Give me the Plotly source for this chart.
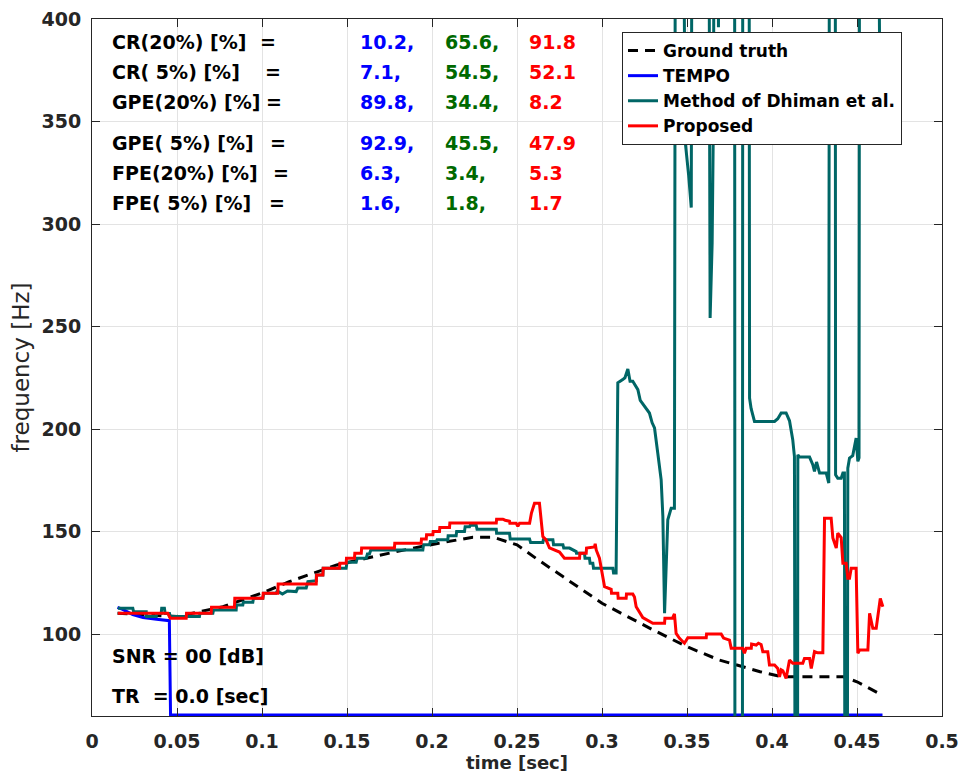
import plotly.graph_objects as go

# ---------------- data ----------------
gt_t = [0.015, 0.03, 0.05, 0.077, 0.1, 0.116, 0.144, 0.179, 0.204, 0.224, 0.236, 0.25,
        0.261, 0.277, 0.29, 0.30, 0.33, 0.35, 0.369, 0.393, 0.406, 0.442, 0.45, 0.463]
gt_f = [110.1, 109.5, 108.5, 113.3, 120, 125.5, 133.7, 140.2, 144.3, 147.2, 147.2, 143.5,
        137, 128, 120.5, 115, 102, 93.8, 87.3, 81.6, 79.1, 79.1, 76.7, 71]

tempo_t = [0.015, 0.018, 0.024, 0.03, 0.038, 0.0455, 0.0462, 0.465]
tempo_f = [113, 112, 109.5, 108, 107.2, 106.5, 60.5, 60.5]

dh_t = [0.0152, 0.024, 0.0245, 0.0319, 0.032, 0.0378, 0.038, 0.0407, 0.041, 0.0426, 0.043, 0.0456,
        0.046, 0.0632, 0.0635, 0.0711, 0.0715, 0.0848, 0.085, 0.0887, 0.089, 0.0946, 0.095, 0.1005,
        0.101, 0.1083, 0.109, 0.112, 0.115, 0.1201, 0.121, 0.126, 0.127, 0.1319, 0.132, 0.1358,
        0.136, 0.1495, 0.15, 0.1554, 0.156, 0.1613, 0.162, 0.1632, 0.164, 0.1946, 0.195, 0.1985,
        0.199, 0.2025, 0.203, 0.2093, 0.2095, 0.2142, 0.2145, 0.2191, 0.2195, 0.2221, 0.2225, 0.226,
        0.2265, 0.2378, 0.238, 0.2456, 0.246, 0.2574, 0.258, 0.2652, 0.2655, 0.2711, 0.2715, 0.277,
        0.2775, 0.2809, 0.2848, 0.285, 0.2897, 0.29, 0.2926, 0.293, 0.2946, 0.295, 0.3064, 0.3068,
        0.3083, 0.3093, 0.3122, 0.3135, 0.3152, 0.3165, 0.3181, 0.3211, 0.3225, 0.326, 0.3279, 0.3295,
        0.3309, 0.3328, 0.3348, 0.3358, 0.3368, 0.3387, 0.3407, 0.3426, 0.3432, 0.3475, 0.349, 0.351,
        0.3525, 0.353, 0.3628, 0.3636, 0.3648, 0.3656, 0.366, 0.3678, 0.3685, 0.3692, 0.378, 0.3782,
        0.3826, 0.3828, 0.3865, 0.3868, 0.3877, 0.3897, 0.4015, 0.4034, 0.4054, 0.4083, 0.4103, 0.4122,
        0.4132, 0.4136, 0.415, 0.4152, 0.4162, 0.4221, 0.424, 0.425, 0.4262, 0.428, 0.4319, 0.4334,
        0.4338, 0.4372, 0.4374, 0.4387, 0.4407, 0.4417, 0.4426, 0.4429, 0.4443, 0.4446, 0.4456, 0.4475,
        0.4495, 0.4505, 0.4512, 0.4515, 0.4622, 0.4637]
dh_f = [112.5, 112.5, 110.8, 110.8, 108.5, 108.5, 110, 110, 112.5, 112.5, 110, 110,
        108.5, 108.5, 110.1, 110.1, 111.7, 111.7, 114.1, 114.1, 115.5, 115.5, 117.4, 117.4,
        119.9, 119.9, 121, 119.5, 121, 120.7, 122.4, 122.4, 125.5, 126, 128.8, 128.8,
        132.1, 132.1, 135, 135, 137, 137, 139, 139, 141, 141, 143.5, 143.5,
        145.1, 145.1, 146, 146, 147.9, 147.9, 150, 150, 152.3, 152.3, 153, 153,
        151.1, 151.1, 149.2, 149.2, 146.3, 146.3, 144.6, 144.6, 146, 146, 143.5, 143.5,
        141.9, 141.9, 140.2, 139.4, 139.4, 137, 137, 134.5, 134.5, 132.1, 132.1, 129.7,
        129.7, 222.5, 224.1, 225, 229.3, 223.3, 223.3, 219.2, 214, 210.3, 207.8, 203,
        200.5, 188.3, 175.2, 157.3, 110.1, 155.7, 161.4, 161.4, 500, 500, 339.8, 323.5,
        308, 500, 500, 254.2, 290.9, 356, 500, 500, 396, 500, 500, 0,
        0, 500, 500, 215.1, 210, 203.7, 203.7, 205, 207.8, 207.8, 204, 194.8,
        186.6, 0, 0, 187.4, 186.3, 186.3, 182.6, 179.3, 183.9, 178.5, 178.5, 173.6,
        500, 500, 177.7, 176, 176, 178.5, 178.5, 0, 0, 180.9, 185.8, 187,
        195.6, 184.2, 186, 500, 500, 345]

pr_t = [0.0152, 0.0446, 0.046, 0.0554, 0.0556, 0.0701, 0.0703, 0.0838, 0.084, 0.1005, 0.1007, 0.1093,
        0.1095, 0.1319, 0.1321, 0.1358, 0.136, 0.1456, 0.1458, 0.1495, 0.1497, 0.1544, 0.1546, 0.1584,
        0.1586, 0.1779, 0.1781, 0.1936, 0.1938, 0.1966, 0.1968, 0.2005, 0.2007, 0.2044, 0.2046, 0.2103,
        0.2105, 0.2378, 0.238, 0.2417, 0.243, 0.2456, 0.2458, 0.2495, 0.2505, 0.2515, 0.2574, 0.2585,
        0.2603, 0.2632, 0.2652, 0.2671, 0.2691, 0.275, 0.2779, 0.2868, 0.287, 0.2907, 0.2909, 0.2956,
        0.296, 0.2966, 0.2985, 0.3015, 0.3054, 0.3056, 0.3093, 0.3095, 0.3142, 0.3144, 0.3181, 0.3191,
        0.3201, 0.324, 0.3299, 0.3368, 0.337, 0.3415, 0.3426, 0.3436, 0.3456, 0.3485, 0.3505, 0.3613,
        0.3615, 0.3701, 0.3715, 0.375, 0.376, 0.3828, 0.3838, 0.3848, 0.3878, 0.388, 0.3907, 0.392,
        0.3936, 0.3946, 0.3975, 0.3985, 0.4015, 0.4034, 0.4044, 0.4054, 0.4064, 0.4083, 0.4103, 0.4122,
        0.4181, 0.4191, 0.4221, 0.4231, 0.425, 0.4269, 0.4299, 0.4309, 0.4348, 0.4358, 0.4378, 0.4387,
        0.4407, 0.4417, 0.4436, 0.4446, 0.4456, 0.4466, 0.4495, 0.4505, 0.4515, 0.4564, 0.4574, 0.4593,
        0.4613, 0.4637, 0.4652]
pr_f = [110.1, 110.1, 107.7, 107.7, 110.1, 110.1, 113, 113, 117.4, 117.4, 119.9, 119.9,
        124.4, 124.4, 128.8, 128.8, 132.1, 132.1, 134.5, 134.5, 137, 137, 139.4, 139.4,
        141.9, 141.9, 144.3, 144.3, 146.3, 146.3, 148.4, 148.4, 150, 150, 151.9, 151.9,
        154.1, 154.1, 156, 156, 155.5, 155, 154, 154, 152.5, 154, 154, 159,
        163.8, 163.8, 147.5, 145.9, 142, 140, 137, 137, 139.4, 139.4, 141.9, 142.5,
        144, 141, 137, 123.1, 121.8, 119.9, 119.9, 117.4, 117.4, 119.5, 119.5, 118,
        113.3, 108, 105.2, 105.2, 107.7, 107.7, 109.8, 100.3, 97.9, 95.5, 98.2, 98.2,
        100, 100, 98, 97, 93, 93, 90.6, 93, 93, 95.1, 94.6, 95.5,
        94.9, 91.4, 91.4, 84.9, 84.9, 83.2, 79.1, 82.5, 82, 78.4, 87.3, 85.7,
        85.7, 88.1, 88.1, 83.2, 91.4, 90.8, 90.8, 156.5, 156.5, 146.8, 141.9, 149.2,
        147, 134.5, 134.5, 127.2, 127.2, 132.1, 132.1, 90.6, 92.2, 92.2, 110.1, 102.8,
        102.8, 117.4, 113.3]

x_ticks = [0, 0.05, 0.1, 0.15, 0.2, 0.25, 0.3, 0.35, 0.4, 0.45, 0.5]
x_tick_labels = ["0", "0.05", "0.1", "0.15", "0.2", "0.25", "0.3", "0.35", "0.4", "0.45", "0.5"]
y_ticks = [100, 150, 200, 250, 300, 350, 400]

metric_labels = ["CR(20%) [%]", "CR( 5%) [%]", "GPE(20%) [%]", "GPE( 5%) [%]", "FPE(20%) [%]", "FPE( 5%) [%]"]
tempo_vals = ["10.2,", "7.1,", "89.8,", "92.9,", "6.3,", "1.6,"]
dhiman_vals = ["65.6,", "54.5,", "34.4,", "45.5,", "3.4,", "1.8,"]
proposed_vals = ["91.8", "52.1", "8.2", "47.9", "5.3", "1.7"]

# ---------------- layout helpers ----------------
W, H = 964, 781
ML, MR, MT, MB = 92, 22, 19, 65
PW, PH = W - ML - MR, H - MT - MB


def px(x):
    return (x - ML) / PW


def py(y):
    return 1 - (y - MT) / PH


FONT = "DejaVu Sans"
TEAL = "rgb(0,102,102)"
GREEN = "rgb(0,105,0)"

fig = go.Figure()
fig.add_trace(go.Scatter(x=gt_t, y=gt_f, mode="lines", name="Ground truth",
                         line=dict(color="black", width=3, dash="10px,7px")))
fig.add_trace(go.Scatter(x=tempo_t, y=tempo_f, mode="lines", name="TEMPO",
                         line=dict(color="rgb(0,0,255)", width=3)))
fig.add_trace(go.Scatter(x=dh_t, y=dh_f, mode="lines", name="Method of Dhiman et al.",
                         line=dict(color=TEAL, width=3)))
fig.add_trace(go.Scatter(x=pr_t, y=pr_f, mode="lines", name="Proposed",
                         line=dict(color="rgb(255,0,0)", width=3)))

ann = []
row_y = [41.7, 71.7, 101.7, 143.3, 173.3, 203.3]
eq_x = [267.5, 272.5, 274, 277.5, 281, 276.5]
for i in range(6):
    yy = py(row_y[i])
    ann.append(dict(x=px(110), y=yy, text=metric_labels[i], xanchor="left", font=dict(color="black")))
    ann.append(dict(x=px(eq_x[i]), y=yy, text="=", xanchor="center", font=dict(color="black")))
    ann.append(dict(x=px(358), y=yy, text=tempo_vals[i], xanchor="left", font=dict(color="rgb(0,0,255)")))
    ann.append(dict(x=px(442.5), y=yy, text=dhiman_vals[i], xanchor="left", font=dict(color=GREEN)))
    ann.append(dict(x=px(527), y=yy, text=proposed_vals[i], xanchor="left", font=dict(color="rgb(255,0,0)")))
ann.append(dict(x=px(110), y=py(655.5), text="SNR = 00 [dB]", xanchor="left", font=dict(color="black")))
ann.append(dict(x=px(110), y=py(696), text="TR &nbsp;= 0.0 [sec]", xanchor="left", font=dict(color="black")))
for a in ann:
    a.update(xref="paper", yref="paper", yanchor="middle", showarrow=False)
    a["font"].update(family=FONT, size=19, weight="bold")

axis_common = dict(showline=True, linecolor="#262626", linewidth=1, mirror="ticks",
                   ticks="inside", ticklen=8, tickcolor="#262626", tickwidth=1,
                   showgrid=True, gridcolor="#e3e3e3", gridwidth=1, zeroline=False,
                   automargin=False,
                   tickfont=dict(family=FONT, size=19, color="#262626", weight="bold"))

fig.update_layout(
    width=W, height=H,
    margin=dict(l=ML, r=MR, t=MT, b=MB),
    plot_bgcolor="white", paper_bgcolor="white",
    showlegend=True,
    legend=dict(x=px(622), y=py(32), xanchor="left", yanchor="top",
                bgcolor="white", bordercolor="#262626", borderwidth=1,
                font=dict(family=FONT, size=17, color="black", weight="bold"),
                tracegroupgap=0, itemwidth=30),
    xaxis=dict(range=[0, 0.5], tickvals=x_ticks, ticktext=x_tick_labels,
               title=dict(text="time [sec]", standoff=5,
                          font=dict(family=FONT, size=18, color="#262626", weight="bold")),
               ticklabelstandoff=8, **axis_common),
    yaxis=dict(range=[60, 400], tickvals=y_ticks,
               title=dict(text="frequency [Hz]", standoff=5,
                          font=dict(family=FONT, size=23, color="#262626")),
               ticklabelstandoff=6, **axis_common),
    annotations=ann,
)

fig.write_html("out.html")
